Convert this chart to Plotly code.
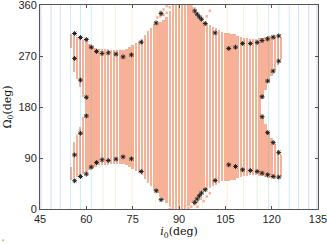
import plotly.graph_objects as go

# ---------------- data ----------------
# admissible region: one column per i0 (deg); lower / upper Omega0 (deg)
col_i = list(range(55, 124))
col_lo = [51, 54, 57, 59, 62, 64, 68, 72, 75, 77,
          78, 78, 78, 79, 79, 79, 80, 80, 77, 74,
          71, 67, 63, 60, 53, 46, 40, 34, 29, 22,
          16, 10, 4, 0, 0, 0, 0, 0, 6, 10,
          15, 20, 27, 32, 35, 37, 40, 42, 46, 49,
          50, 50, 51, 52, 55, 57, 58, 59, 60, 60,
          60, 59, 58, 56, 55, 54, 53, 53, 56]
col_hi = [309, 306, 303, 301, 298, 296, 292, 288, 285, 283,
          282, 282, 282, 281, 281, 281, 280, 280, 283, 286,
          289, 293, 297, 300, 307, 314, 320, 326, 328, 330,
          334, 338, 350, 360, 360, 360, 360, 360, 360, 356,
          348, 342, 336, 330, 326, 324, 322, 320, 316, 312,
          310, 310, 309, 308, 305, 303, 302, 301, 300, 300,
          300, 301, 302, 304, 305, 306, 307, 307, 304]
# white notch in the side columns (i0, from, to)
gap_i = [55, 56, 57, 58, 59, 117, 118, 119, 120, 121, 122, 123]
gap_lo = [75, 118, 130, 145, 162, 165, 150, 135, 125, 115, 105, 95]
gap_hi = [285, 242, 230, 215, 198, 195, 210, 225, 235, 245, 255, 265]

# isolated admissible points near the poles
rag_i = [83, 84, 84, 85, 85, 86, 86, 87, 93, 94, 94, 95, 99, 100,
         92, 93, 94, 95, 96, 96, 97, 98, 99, 100, 88, 87]
rag_o = [338, 340, 348, 352, 342, 346, 358, 356, 352, 358, 348, 354, 340, 350,
         6, 2, 4, 8, 4, 12, 18, 14, 22, 28, 2, 0]

# boundary samples (asterisks)
star_i = [56.2, 58.1, 60.0, 61.6, 63.3, 65.1, 67.1, 69.6, 71.9, 74.6, 77.8, 82.6, 84.2,
          95.1, 95.9, 96.6, 97.3, 98.5, 101.7, 106.1, 108.3, 110.6, 113.1, 115.3, 116.9,
          118.7, 120.5, 122.3,
          122.3, 120.5, 118.7, 116.9, 116.9, 118.7, 120.5, 122.3,
          122.3, 120.5, 118.7, 116.9, 115.3, 113.1, 110.6, 108.3, 106.1, 101.7,
          98.5, 97.3, 96.6, 95.9, 95.1,
          84.2, 82.6, 77.8, 74.6, 71.9, 69.6, 67.1, 65.1, 63.3, 61.6, 60.0, 58.1, 56.2,
          56.2, 58.1, 60.0, 60.0, 58.1, 56.2]
star_o = [309.7, 302.7, 299.1, 285.6, 278.0, 274.5, 275.6, 273.3, 268.5, 272.0, 294.4, 328.4, 344.9,
          349.5, 343.7, 338.9, 334.9, 327.3, 310.8, 283.3, 285.6, 292.1, 292.1, 293.9, 297.4,
          300.2, 303.2, 305.5,
          261.0, 243.4, 225.8, 198.1, 162.9, 134.8, 117.2, 99.6,
          56.3, 57.4, 60.4, 63.3, 66.2, 67.9, 69.2, 75.0, 78.0, 50.3,
          34.0, 28.2, 23.4, 17.6, 11.6,
          16.4, 32.2, 66.2, 88.5, 92.0, 88.0, 85.5, 86.8, 82.0, 73.9, 61.6, 57.4, 49.8,
          265.7, 227.5, 197.1, 164.2, 133.7, 95.5]

# background contour levels (vertical iso-lines in i0)
contour_i = [45.3, 48.6, 51.6, 54.9, 58.1, 61.6, 65.4, 69.4, 74.8, 82.4, 90.0,
             97.6, 105.6, 110.9, 115.3, 119.0, 122.3, 125.7, 128.7, 132.0, 134.7]
contour_c = ["#3b3bbf", "#4a55d8", "#3f7de8", "#2f9ee0", "#20b4cc", "#3cbfa8", "#8ccb6a",
             "#d2c94a", "#f2c83a", "#f7d53a", "#f9e03a",
             "#f7d53a", "#f2c83a", "#d2c94a", "#8ccb6a", "#3cbfa8", "#20b4cc",
             "#2f9ee0", "#3f7de8", "#4a55d8", "#3b3bbf"]

x_ticks = [45, 60, 75, 90, 105, 120, 135]
y_ticks = [0, 90, 180, 270, 360]

# ---------------- figure ----------------
fig = go.Figure()

for xi, c in zip(contour_i, contour_c):
    fig.add_trace(go.Scatter(x=[xi, xi], y=[0, 360], mode="lines",
                             line=dict(color=c, width=1), opacity=0.22,
                             hoverinfo="skip", showlegend=False))

fig.add_trace(go.Bar(x=col_i, y=[h - l for l, h in zip(col_lo, col_hi)], base=col_lo,
                     width=0.8, marker=dict(color="#F6B198", line=dict(width=0)),
                     showlegend=False))
fig.add_trace(go.Bar(x=gap_i, y=[h - l for l, h in zip(gap_lo, gap_hi)], base=gap_lo,
                     width=0.9, marker=dict(color="white", line=dict(width=0)),
                     showlegend=False))

fig.add_trace(go.Scatter(x=rag_i, y=rag_o, mode="markers",
                         marker=dict(symbol="square", size=2.5, color="#F6B198"),
                         showlegend=False))

fig.add_trace(go.Scatter(x=star_i, y=star_o, mode="markers",
                         marker=dict(symbol="asterisk-open", size=4, color="#222",
                                     line=dict(color="#222", width=1)),
                         showlegend=False))

axis_common = dict(ticks="inside", ticklen=3, showline=True, linecolor="#555",
                   linewidth=1, mirror="allticks", showgrid=False, zeroline=False,
                   tickcolor="#555", automargin=False, ticklabeloverflow="allow")

fig.update_layout(
    width=327, height=244,
    margin=dict(l=39.5, r=9.3, t=4.7, b=34.7),
    paper_bgcolor="white", plot_bgcolor="white",
    barmode="overlay", bargap=0,
    font=dict(family="Liberation Sans, Arial", size=11, color="#262626"),
    xaxis=dict(range=[45, 135], tickvals=x_ticks, **axis_common,
               title=dict(text="<i>i</i><sub>0</sub>(deg)",
                          font=dict(family="DejaVu Serif", size=11, color="#111"),
                          standoff=2)),
    yaxis=dict(range=[0, 360], tickvals=y_ticks, **axis_common,
               title=dict(text="Ω<sub>0</sub>(deg)",
                          font=dict(family="DejaVu Serif", size=11, color="#111"),
                          standoff=4)),
    shapes=[dict(type="circle", xref="paper", yref="paper",
                 x0=-0.136, x1=-0.129, y0=-0.158, y1=-0.148,
                 fillcolor="#b5c23c", line=dict(width=0))],
)

fig.write_html("out.html", config={"displayModeBar": False},
               post_script="document.body.style.margin='0px';")
